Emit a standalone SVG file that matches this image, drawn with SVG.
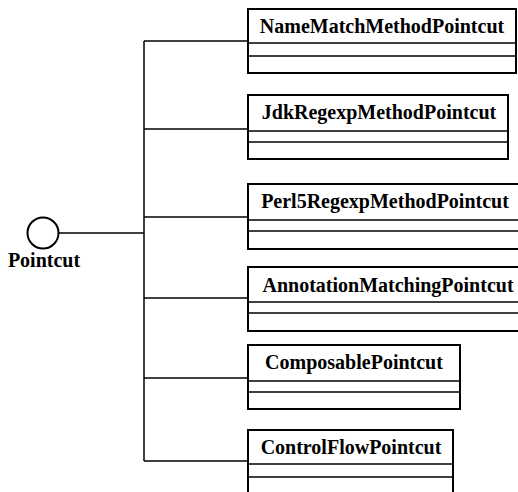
<svg xmlns="http://www.w3.org/2000/svg" width="518" height="492" viewBox="0 0 518 492">
  <style>
    .box { fill: #fff; stroke: #000; stroke-width: 2; }
    .div { stroke: #000; stroke-width: 1.5; }
    .conn { fill: none; stroke: #000; stroke-width: 1.5; }
    .name { font-family: "Liberation Serif", "Times New Roman", serif; font-weight: bold; font-size: 20px; fill: #000; text-anchor: middle; }
  </style>

  <!-- inheritance connectors -->
  <g id="connectors">
    <path class="conn" d="M59 233 H144"/>
    <path class="conn" d="M144 41 V461"/>
    <path class="conn" d="M144 41 H248"/>
    <path class="conn" d="M144 129 H248"/>
    <path class="conn" d="M144 217 H248"/>
    <path class="conn" d="M144 298 H248"/>
    <path class="conn" d="M144 378 H248"/>
    <path class="conn" d="M144 461 H248"/>
  </g>

  <!-- interface -->
  <g id="pointcut">
    <circle cx="43" cy="233" r="15.5" fill="#fff" stroke="#000" stroke-width="2"/>
    <text class="name" x="44" y="267">Pointcut</text>
  </g>

  <g id="nameMatchMethodPointcut">
    <rect class="box" x="248" y="9" width="268" height="64"/>
    <line class="div" x1="248" y1="43" x2="516" y2="43"/>
    <line class="div" x1="248" y1="56" x2="516" y2="56"/>
    <text class="name" x="382" y="33">NameMatchMethodPointcut</text>
  </g>

  <g id="jdkRegexpMethodPointcut">
    <rect class="box" x="248" y="95" width="260" height="64"/>
    <line class="div" x1="248" y1="131" x2="508" y2="131"/>
    <line class="div" x1="248" y1="142" x2="508" y2="142"/>
    <text class="name" x="379" y="119">JdkRegexpMethodPointcut</text>
  </g>

  <g id="perl5RegexpMethodPointcut">
    <rect class="box" x="248" y="184" width="276" height="65"/>
    <line class="div" x1="248" y1="220" x2="524" y2="220"/>
    <line class="div" x1="248" y1="231" x2="524" y2="231"/>
    <text class="name" x="385" y="208">Perl5RegexpMethodPointcut</text>
  </g>

  <g id="annotationMatchingPointcut">
    <rect class="box" x="248" y="267" width="280" height="64"/>
    <line class="div" x1="248" y1="302" x2="528" y2="302"/>
    <line class="div" x1="248" y1="313" x2="528" y2="313"/>
    <text class="name" x="388" y="292">AnnotationMatchingPointcut</text>
  </g>

  <g id="composablePointcut">
    <rect class="box" x="248" y="345" width="212" height="64"/>
    <line class="div" x1="248" y1="381" x2="460" y2="381"/>
    <line class="div" x1="248" y1="392" x2="460" y2="392"/>
    <text class="name" x="354" y="369">ComposablePointcut</text>
  </g>

  <g id="controlFlowPointcut">
    <rect class="box" x="248" y="430" width="205" height="70"/>
    <line class="div" x1="248" y1="464" x2="453" y2="464"/>
    <line class="div" x1="248" y1="477" x2="453" y2="477"/>
    <text class="name" x="351" y="454">ControlFlowPointcut</text>
  </g>
</svg>
